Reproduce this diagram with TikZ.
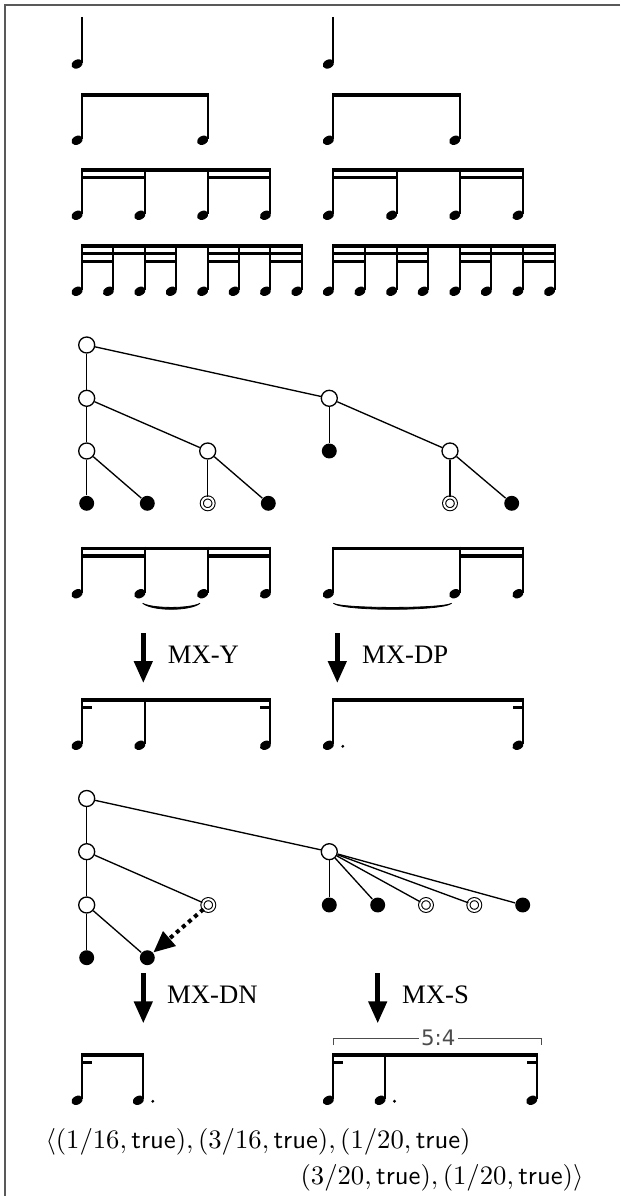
\documentclass[tikz,border=0pt]{standalone}
\usepackage{fontspec}
\newfontfamily\mxfont{Liberation Serif}
\newfontfamily\tupfont{DejaVu Sans}
\usetikzlibrary{arrows.meta,positioning}

\newcommand\qnote[2]{%
  \draw[line width=.75pt] (#1,#2) -- (#1,#2+46);
  \fill[rotate around={28:(#1-4.9,#2+47)}] (#1-4.9,#2+47) ellipse [x radius=6,y radius=4.3];}
\newcommand\nbeam[3]{\fill (#1-1,#3) rectangle (#2+1,#3+3.3);}
\newcommand\ndot[2]{\fill (#1+9.5,#2+48) circle [radius=1.6];}
\newcommand\nslur[3]{\filldraw[line width=.3pt] (#1,#3) .. controls (#1+10,#3+8) and (#2-10,#3+8) .. (#2,#3)
  .. controls (#2-10,#3+5.5) and (#1+10,#3+5.5) .. (#1,#3) -- cycle;}

\begin{document}
\begin{tikzpicture}[x=.375pt,y=-.375pt,
 opn/.style={circle,draw,fill=white,minimum size=6pt,inner sep=0pt,line width=.5pt},
 blk/.style={circle,fill,minimum size=5.6pt,inner sep=0pt},
 dbl/.style={circle,draw,double,double distance=.75pt,minimum size=4.4pt,inner sep=0pt,line width=.4pt},
 br/.style={line width=.5pt},
 mv/.style={-{Triangle[length=8.25pt,width=6.75pt]},line width=1.75pt},
 mvd/.style={-{Triangle[length=8pt,width=7pt]},line width=1.5pt,dash pattern=on 1.5pt off 1.5pt},
 mx/.style={font=\mxfont,inner sep=0pt,anchor=west},
 tup/.style={draw=black!70,line width=.4pt}]
\useasboundingbox (0,0) rectangle (620,1196);
\draw[line width=.6pt,black!65] (620,5) -- (5,5) -- (5,1196);

\foreach \bx/\st in {82/31.4,333.3/31.6}{
  \qnote{\bx}{17}
  \foreach \k in {0,4} {\qnote{\bx+\k*\st}{93.3}}
  \nbeam{\bx}{\bx+4*\st}{93.3}
  \foreach \k in {0,2,4,6} {\qnote{\bx+\k*\st}{168.3}}
  \nbeam{\bx}{\bx+6*\st}{168.3}
  \foreach \k in {0,4} {\nbeam{\bx+\k*\st}{\bx+\k*\st+2*\st}{176}}
  \foreach \k in {0,...,7} {\qnote{\bx+\k*\st}{244.3}}
  \nbeam{\bx}{\bx+7*\st}{244.3}
  \foreach \k in {0,4} {\nbeam{\bx+\k*\st}{\bx+\k*\st+3*\st}{252}}
  \foreach \k in {0,2,4,6} {\nbeam{\bx+\k*\st}{\bx+\k*\st+\st}{259.7}}
}

\node[opn] (p) at (86.7,345) {};
\node[opn] (pa) at (86.7,398.3) {};
\node[opn] (pb) at (329.3,398.3) {};
\node[opn] (paa) at (86.7,451) {};
\node[opn] (pab) at (207.7,451) {};
\node[blk] (pba) at (329.3,451) {};
\node[opn] (pbb) at (450,451) {};
\node[blk] (paaa) at (86.7,503.3) {};
\node[blk] (paab) at (147.3,503.3) {};
\node[dbl] (paba) at (207.7,503.3) {};
\node[blk] (pabb) at (268.3,503.3) {};
\node[dbl] (pbba) at (450,503.3) {};
\node[blk] (pbbb) at (511.7,503.3) {};
\draw[br] (p)--(pa); \draw[br] (p)--(pb); \draw[br] (pa)--(paa); \draw[br] (pa)--(pab);
\draw[br] (pb)--(pba); \draw[br] (pb)--(pbb); \draw[br] (paa)--(paaa); \draw[br] (paa)--(paab);
\draw[br] (pab)--(paba); \draw[br] (pab)--(pabb); \draw[br] (pbb)--(pbba); \draw[br] (pbb)--(pbbb);

\foreach \k in {0,2,4,6} {\qnote{82+\k*31.4}{546.7}}
\nbeam{82}{82+6*31.4}{546.7}
\nbeam{82}{82+2*31.4}{554.3} \nbeam{82+4*31.4}{82+6*31.4}{554.3}
\nslur{142.7}{200}{603.3}
\foreach \k in {0,4,6} {\qnote{333.3+\k*31.6}{546.7}}
\nbeam{333.3}{333.3+6*31.6}{546.7}
\nbeam{333.3+4*31.6}{333.3+6*31.6}{554.3}
\nslur{333.3}{451.7}{603.3}

\coordinate (ys) at (143.3,633); \coordinate (ye) at (143.3,683);
\coordinate (dps) at (337.3,633); \coordinate (dpe) at (337.3,683);
\draw[mv] (ys)--(ye); \draw[mv] (dps)--(dpe);
\node[mx] (ly) at (167.3,654.5) {MX-Y};
\node[mx] (ldp) at (361.7,654.5) {MX-DP};

\foreach \k in {0,2,6} {\qnote{82+\k*31.4}{698.3}}
\nbeam{82}{82+6*31.4}{698.3}
\nbeam{82}{91}{706} \nbeam{82+6*31.4-9}{82+6*31.4}{706}
\qnote{333.3}{698.3} \qnote{522.9}{698.3}
\nbeam{333.3}{522.9}{698.3} \nbeam{513.9}{522.9}{706}
\ndot{333.3}{698.3}

\node[opn] (q) at (86.7,798.5) {};
\node[opn] (qa) at (86.7,851.7) {};
\node[opn] (qb) at (329.3,851.7) {};
\node[opn] (qaa) at (86.7,905) {};
\node[dbl] (qab) at (208.3,905) {};
\node[blk] (qaaa) at (86.7,957.7) {};
\node[blk] (qaab) at (147.3,957.7) {};
\node[blk] (qb1) at (329.3,905) {};
\node[blk] (qb2) at (377.7,905) {};
\node[dbl] (qb3) at (426,905) {};
\node[dbl] (qb4) at (474.3,905) {};
\node[blk] (qb5) at (522.7,905) {};
\draw[br] (q)--(qa); \draw[br] (q)--(qb); \draw[br] (qa)--(qaa); \draw[br] (qa)--(qab);
\draw[br] (qaa)--(qaaa); \draw[br] (qaa)--(qaab);
\foreach \c in {qb1,qb2,qb3,qb4,qb5} {\draw[br] (qb)--(\c);}
\draw[mvd] (qab)--(qaab);

\coordinate (dns) at (143.3,973.3); \coordinate (dne) at (143.3,1023.3);
\coordinate (ss) at (377.7,973.3); \coordinate (se) at (377.7,1023.3);
\draw[mv] (dns)--(dne); \draw[mv] (ss)--(se);
\node[mx] (ldn) at (166.7,995) {MX-DN};
\node[mx] (ls) at (401.7,995) {MX-S};

\qnote{82}{1053.3} \qnote{143.3}{1053.3}
\nbeam{82}{143.3}{1053.3} \nbeam{82}{91}{1061}
\ndot{143.3}{1053.3}

\draw[tup] (333.3,1045) -- (333.3,1038.3) -- (541.7,1038.3) -- (541.7,1045);
\node[font=\tupfont\fontsize{8}{9}\selectfont,text=black!70,fill=white,inner sep=.8pt] (tn) at (438.3,1037.5) {5:4};
\qnote{333.3}{1053.3} \qnote{385}{1053.3} \qnote{536.7}{1053.3}
\nbeam{333.3}{536.7}{1053.3} \nbeam{333.3}{342.3}{1061} \nbeam{527.7}{536.7}{1061}
\ndot{385}{1053.3}

\node[anchor=west,inner sep=0pt] (sq1) at (45,1141.5)
 {$\langle(1/16,\mathsf{true}),(3/16,\mathsf{true}),(1/20,\mathsf{true})$};
\node[anchor=east,inner sep=0pt] (sq2) at (584,1178)
 {$(3/20,\mathsf{true}),(1/20,\mathsf{true})\rangle$};
\end{tikzpicture}
\end{document}
